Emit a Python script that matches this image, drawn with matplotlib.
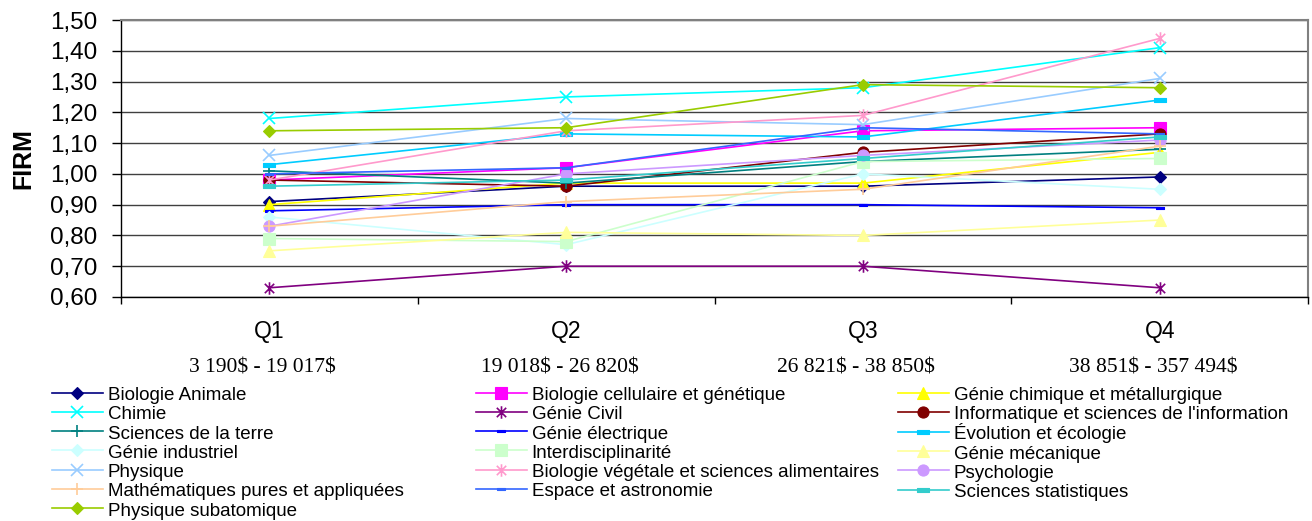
import matplotlib.pyplot as plt
import matplotlib.transforms as mtransforms
from matplotlib.path import Path
from matplotlib.ticker import FuncFormatter, MultipleLocator

plt.rcParams['font.family'] = ['Liberation Sans', 'DejaVu Sans']

quartiles = ["Q1", "Q2", "Q3", "Q4"]
tranches = ["3 190$ - 19 017$", "19 018$ - 26 820$",
            "26 821$ - 38 850$", "38 851$ - 357 494$"]

disciplines = [
    "Biologie Animale",
    "Biologie cellulaire et génétique",
    "Génie chimique et métallurgique",
    "Chimie",
    "Génie Civil",
    "Informatique et sciences de l'information",
    "Sciences de la terre",
    "Génie électrique",
    "Évolution et écologie",
    "Génie industriel",
    "Interdisciplinarité",
    "Génie mécanique",
    "Physique",
    "Biologie végétale et sciences alimentaires",
    "Psychologie",
    "Mathématiques pures et appliquées",
    "Espace et astronomie",
    "Sciences statistiques",
    "Physique subatomique",
]

# FIRM moyen par quartile de financement, dans l'ordre de `disciplines`
firm_q1 = [0.91, 0.98, 0.90, 1.18, 0.63, 0.98, 1.01, 0.88, 1.03, 0.86,
           0.79, 0.75, 1.06, 0.98, 0.83, 0.83, 1.00, 0.96, 1.14]
firm_q2 = [0.96, 1.02, 0.97, 1.25, 0.70, 0.96, 0.97, 0.90, 1.13, 0.77,
           0.78, 0.81, 1.18, 1.14, 1.00, 0.91, 1.02, 0.98, 1.15]
firm_q3 = [0.96, 1.14, 0.97, 1.28, 0.70, 1.07, 1.04, 0.90, 1.12, 1.00,
           1.04, 0.80, 1.16, 1.19, 1.06, 0.95, 1.15, 1.05, 1.29]
firm_q4 = [0.99, 1.15, 1.07, 1.41, 0.63, 1.13, 1.08, 0.89, 1.24, 0.95,
           1.05, 0.85, 1.31, 1.44, 1.11, 1.09, 1.13, 1.12, 1.28]

# palette Excel par défaut
couleurs = ["#000080", "#FF00FF", "#FFFF00", "#00FFFF", "#800080", "#800000",
            "#008080", "#0000FF", "#00CCFF", "#CCFFFF", "#CCFFCC", "#FFFF99",
            "#99CCFF", "#FF99CC", "#CC99FF", "#FFCC99", "#3366FF", "#33CCCC",
            "#99CC00"]

etoile = Path([(0, -1), (0, 1), (-0.75, -0.75), (0.75, 0.75), (-0.75, 0.75), (0.75, -0.75)],
              [Path.MOVETO, Path.LINETO, Path.MOVETO, Path.LINETO, Path.MOVETO, Path.LINETO])
tiret = Path([(-1, -0.3), (1, -0.3), (1, 0.3), (-1, 0.3), (-1, -0.3)],
             [Path.MOVETO, Path.LINETO, Path.LINETO, Path.LINETO, Path.CLOSEPOLY])

# (marqueur, taille, plein)
styles = [("D", 6.5, True), ("s", 8, True), ("^", 8.5, True), ("x", 9, False),
          (etoile, 9, False), ("o", 8, True), ("+", 9, False), (tiret, 5.5, True),
          (tiret, 9, True)]
styles = styles + styles[:9] + styles[:1]
styles[16] = (tiret, 5.5, True)
styles[17] = (tiret, 9, True)

fig = plt.figure(figsize=(13.12, 5.21), dpi=100)
ax = fig.add_axes([121 / 1312, 1 - 297 / 521, 1187 / 1312, 277 / 521])

x = list(range(len(quartiles)))
lignes = []
for i, nom in enumerate(disciplines):
    valeurs = [firm_q1[i], firm_q2[i], firm_q3[i], firm_q4[i]]
    marqueur, taille, plein = styles[i]
    ln, = ax.plot(x, valeurs, color=couleurs[i], lw=1.2, marker=marqueur,
                  markersize=taille, markerfacecolor=couleurs[i] if plein else "none",
                  markeredgecolor=couleurs[i], markeredgewidth=1.2 if not plein else 0.8,
                  label=nom, zorder=3)
    lignes.append(ln)

ax.set_xlim(-0.5, 3.5)
ax.set_ylim(0.6, 1.5)
ax.yaxis.set_major_locator(MultipleLocator(0.1))
ax.yaxis.set_major_formatter(FuncFormatter(lambda v, p: f"{v:.2f}".replace(".", ",")))
ax.set_xticks([-0.5, 0.5, 1.5, 2.5, 3.5])
ax.set_xticklabels([])
ax.tick_params(axis="y", direction="out", length=6.5, width=1, pad=10.5, labelsize=17.5)
ax.tick_params(axis="x", direction="out", length=5, width=1)
ax.grid(axis="y", color="#404040", lw=1)
ax.set_axisbelow(True)
for s in ["top", "right"]:
    ax.spines[s].set_color("#808080")
    ax.spines[s].set_linewidth(1.5)
for s in ["left", "bottom"]:
    ax.spines[s].set_color("black")
    ax.spines[s].set_linewidth(1)

ax.set_ylabel("FIRM", fontsize=18, fontweight="bold", labelpad=10.5)

trans = mtransforms.blended_transform_factory(ax.transData, ax.transAxes)
for i, q in enumerate(quartiles):
    ax.text(i, -0.123, q, transform=trans, ha="center", va="center", fontsize=16.5)
    ax.text(i - 0.022, -0.258, tranches[i], transform=trans, ha="center", va="center",
            fontsize=15.5, family="Liberation Serif", parse_math=False)

# légende sur trois colonnes, remplie ligne par ligne
colonnes = [lignes[0::3], lignes[1::3], lignes[2::3]]
gauches = [52, 476, 898]
for hs, gx in zip(colonnes, gauches):
    fig.legend(handles=hs, loc="upper left", bbox_to_anchor=(gx / 1312, 1 - 385 / 521),
               frameon=False, fontsize=13.5, borderpad=0, borderaxespad=0,
               handlelength=2.7, handleheight=1.075, handletextpad=0.27, labelspacing=0)

fig.savefig("out.png", dpi=100)
